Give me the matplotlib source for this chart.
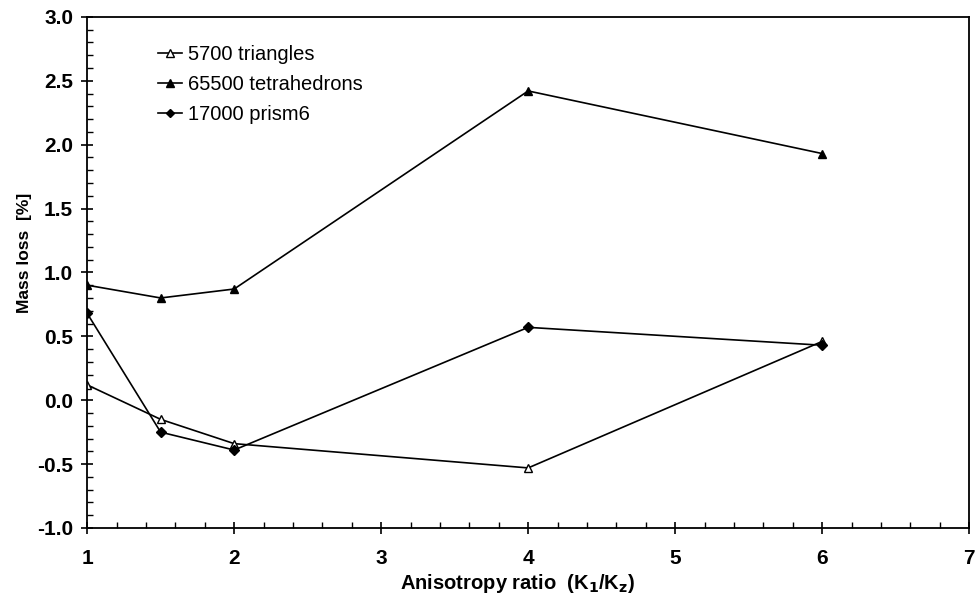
import numpy as np
import matplotlib.pyplot as plt
from matplotlib.ticker import MultipleLocator

plt.rcParams['font.family'] = ['Liberation Sans', 'DejaVu Sans']

# data
ratio = [1, 1.5, 2, 4, 6]
tri_5700 = [0.12, -0.15, -0.34, -0.53, 0.46]
tet_65500 = [0.90, 0.80, 0.87, 2.42, 1.93]
prism_17000 = [0.68, -0.25, -0.39, 0.57, 0.43]

fig = plt.figure(figsize=(9.79, 6.01), dpi=100)
ax = fig.add_axes([0.089, 0.1215, 0.901, 0.8505])

ax.plot(ratio, tri_5700, color='black', lw=1.2, marker='^', ms=6,
        mfc='white', mec='black', label='5700 triangles')
ax.plot(ratio, tet_65500, color='black', lw=1.2, marker='^', ms=6,
        label='65500 tetrahedrons')
ax.plot(ratio, prism_17000, color='black', lw=1.2, marker='D', ms=5,
        label='17000 prism6')

ax.set_xlim(1, 7)
ax.set_ylim(-1.0, 3.0)
ax.xaxis.set_major_locator(MultipleLocator(1))
ax.xaxis.set_minor_locator(MultipleLocator(0.2))
ax.yaxis.set_major_locator(MultipleLocator(0.5))
ax.yaxis.set_minor_locator(MultipleLocator(0.1))
ax.yaxis.set_major_formatter(plt.FormatStrFormatter('%.1f'))

ax.tick_params(axis='both', which='major', direction='inout', length=8, width=1.2,
               labelsize=15)
ax.tick_params(axis='both', which='minor', direction='in', length=4, width=1)
ax.tick_params(axis='x', pad=11)
ax.tick_params(axis='y', pad=6)
for lab in ax.get_xticklabels() + ax.get_yticklabels():
    lab.set_fontweight('bold')
for s in ax.spines.values():
    s.set_linewidth(1.3)

ax.set_xlabel('Anisotropy ratio  (K$_\\mathbf{1}$/K$_\\mathbf{z}$)', fontsize=14.5,
              fontweight='bold')
ax.xaxis.set_label_coords(0.4875, -0.086)
ax.set_ylabel('Mass loss  [%]', fontsize=12.5, fontweight='bold')
ax.yaxis.set_label_coords(-0.063, 0.538)

ax.legend(loc='upper left', bbox_to_anchor=(0.06, 0.98), frameon=False,
          fontsize=14.5, handlelength=1.2, handletextpad=0.3, labelspacing=0.55,
          markerscale=0.9)

fig.savefig('out.png', dpi=100)
